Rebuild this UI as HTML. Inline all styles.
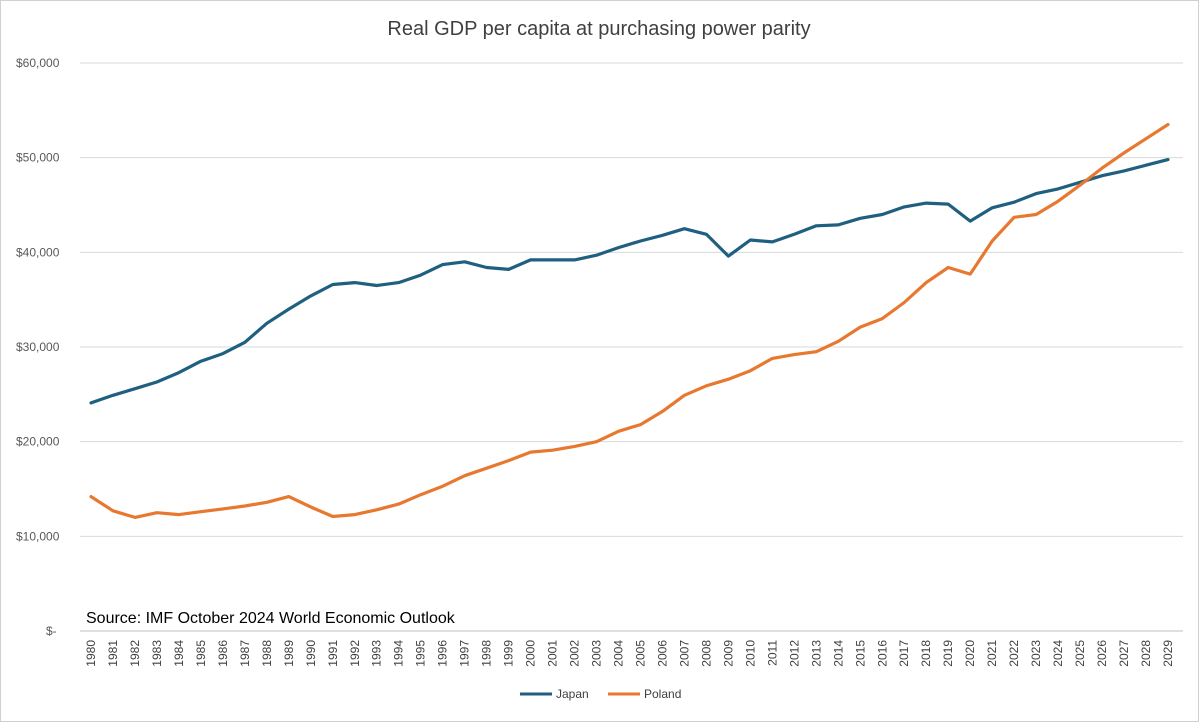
<!DOCTYPE html>
<html><head><meta charset="utf-8"><style>
html,body{margin:0;padding:0;background:#fff;}
svg{display:block;font-family:"Liberation Sans",sans-serif;}
</style></head><body>
<svg id="chart" width="1199" height="722" viewBox="0 0 1199 722">
<rect x="0.5" y="0.5" width="1198" height="721" fill="#fff" stroke="#d0d0d0"/>
<text x="599" y="35" text-anchor="middle" font-size="20" fill="#404040">Real GDP per capita at purchasing power parity</text>
<g id="grid"></g><g id="yt"></g><g id="xt"></g><g id="lines"></g>
<text x="86" y="623" font-size="16" fill="#000">Source: IMF October 2024 World Economic Outlook</text>
<g>
<line x1="520" y1="694" x2="552" y2="694" stroke="#1f5f80" stroke-width="3"/>
<text x="556" y="698" font-size="12" fill="#404040">Japan</text>
<line x1="608" y1="694" x2="640" y2="694" stroke="#e8782f" stroke-width="3"/>
<text x="644" y="698" font-size="12" fill="#404040">Poland</text>
</g>
</svg>
<script>
const years=[];for(let y=1980;y<=2029;y++)years.push(y);
const japan=[24.1,24.9,25.6,26.3,27.3,28.5,29.3,30.5,32.5,34.0,35.4,36.6,36.8,36.5,36.8,37.6,38.7,39.0,38.4,38.2,39.2,39.2,39.2,39.7,40.5,41.2,41.8,42.5,41.9,39.6,41.3,41.1,41.9,42.8,42.9,43.6,44.0,44.8,45.2,45.1,43.3,44.7,45.3,46.2,46.7,47.4,48.1,48.6,49.2,49.8];
const poland=[14.2,12.7,12.0,12.5,12.3,12.6,12.9,13.2,13.6,14.2,13.1,12.1,12.3,12.8,13.4,14.4,15.3,16.4,17.2,18.0,18.9,19.1,19.5,20.0,21.1,21.8,23.2,24.9,25.9,26.6,27.5,28.8,29.2,29.5,30.6,32.1,33.0,34.7,36.8,38.4,37.7,41.2,43.7,44.0,45.4,47.1,48.9,50.5,52.0,53.5];
const yTicks=[0,10,20,30,40,50,60];
const yLabels=["$-","$10,000","$20,000","$30,000","$40,000","$50,000","$60,000"];
const NS="http://www.w3.org/2000/svg";
const X0=80,X1=1183,y0=631,yTop=63;
const xs=i=>91+i*(1168-91)/(years.length-1);
const ys=v=>y0-v*(y0-yTop)/60;
function mk(t,a,p){const e=document.createElementNS(NS,t);for(const k in a)e.setAttribute(k,a[k]);document.getElementById(p).appendChild(e);return e;}
yTicks.forEach((t,i)=>{
 const l=mk('line',{x1:X0,x2:X1,y1:ys(t),y2:ys(t),stroke:t===0?'#bfbfbf':'#d9d9d9','stroke-width':1},'grid');
 
 
 const tx=mk('text',{x:t===0?46:16,y:ys(t)+4,'font-size':12,fill:'#595959'},'yt');
 tx.textContent=yLabels[i];
 
 
});
years.forEach((yr,i)=>{
 const tx=mk('text',{x:0,y:0,'font-size':12,fill:'#404040','text-anchor':'end',transform:`translate(${xs(i)+4},${y0+9}) rotate(-90)`},'xt');
 tx.textContent=yr;
 
 
});
function line(d,c,n){
 const p=mk('polyline',{points:d.map((v,i)=>xs(i).toFixed(1)+','+ys(v).toFixed(1)).join(' '),fill:'none',stroke:c,'stroke-width':3.2,'stroke-linejoin':'round','stroke-linecap':'round'},'lines');
 
 
}
line(japan,'#1f5f80','japan-line');
line(poland,'#e8782f','poland-line');
</script>
</body></html>
